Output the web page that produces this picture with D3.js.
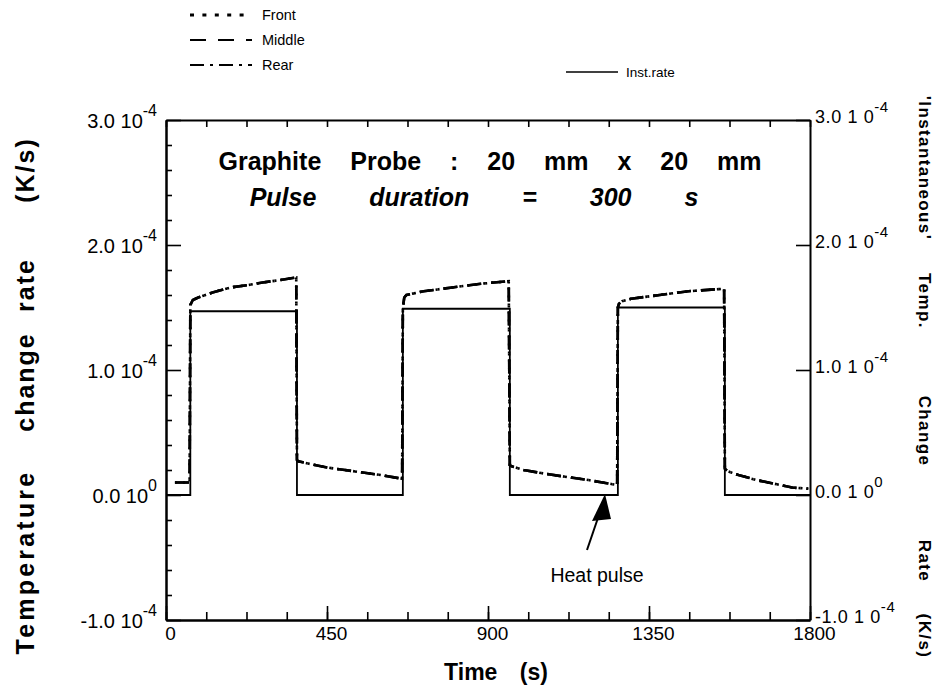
<!DOCTYPE html>
<html>
<head>
<meta charset="utf-8">
<style>
  body { margin: 0; background: #fff; }
  text { font-family: "Liberation Sans", Arial, sans-serif; fill: #000; }
</style>
</head>
<body>
<svg width="945" height="692"></svg>
<script src="https://cdn.jsdelivr.net/npm/d3@7/dist/d3.min.js"></script>
<script>
// time axis (s)
const xTicks = [0, 450, 900, 1350, 1800];
const xMinorTicks = [0, 112.5, 225, 337.5, 450, 562.5, 675, 787.5, 900, 1012.5, 1125, 1237.5, 1350, 1462.5, 1575, 1687.5, 1800];
// rate axis (K/s)
const yTicks = [-1e-4, 0, 1e-4, 2e-4, 3e-4];
const yTickMant = ["-1.0", "0.0", "1.0", "2.0", "3.0"];
const yTickExp = ["-4", "0", "-4", "-4", "-4"];
const yMinorTicks = [-0.8e-4, -0.6e-4, -0.4e-4, -0.2e-4, 0.2e-4, 0.4e-4, 0.6e-4, 0.8e-4,
  1.2e-4, 1.4e-4, 1.6e-4, 1.8e-4, 2.2e-4, 2.4e-4, 2.6e-4, 2.8e-4];

// 'instantaneous' rate (square pulses), units 1e-4 K/s
const instTime = [0, 68, 68, 366, 366, 662, 662, 961, 961, 1263, 1263, 1562, 1562, 1800];
const instRate = [0, 0, 1.47, 1.47, 0, 0, 1.49, 1.49, 0, 0, 1.50, 1.50, 0, 0];

// probe thermocouples, units 1e-4 K/s
const probeTime = [25, 66, 68, 75, 90, 130, 180, 230, 270, 320, 364, 366,
  370, 400, 450, 500, 550, 600, 660, 662, 666, 672, 720, 800, 880, 958, 961,
  966, 1000, 1060, 1130, 1180, 1220, 1261, 1263, 1266, 1275, 1300, 1380, 1460, 1560, 1562,
  1570, 1600, 1650, 1700, 1750, 1795];
const frontRate = [0.10, 0.10, 1.52, 1.56, 1.58, 1.62, 1.66, 1.68, 1.70, 1.72, 1.74, 0.28,
  0.27, 0.25, 0.22, 0.20, 0.18, 0.16, 0.13, 1.50, 1.58, 1.60, 1.63, 1.66, 1.69, 1.71, 0.24,
  0.23, 0.20, 0.17, 0.14, 0.12, 0.10, 0.08, 1.50, 1.53, 1.55, 1.57, 1.60, 1.63, 1.65, 0.21,
  0.19, 0.16, 0.12, 0.09, 0.06, 0.05];
const middleRate = frontRate.slice();
const rearRate = frontRate.slice();

const svg = d3.select("svg");
const x = d3.scaleLinear().domain([0, 1800]).range([166, 810]);
const y = d3.scaleLinear().domain([-1e-4, 3e-4]).range([620, 120]);

// axes
function styleAxis(g) {
  g.selectAll("path").attr("stroke", "#000").attr("stroke-width", 2);
  g.selectAll("line").attr("stroke", "#000").attr("stroke-width", 1.6);
}
svg.append("g").attr("transform", `translate(${x(0)},0)`)
  .call(d3.axisLeft(y).tickValues(yMinorTicks).tickSize(-6).tickSizeOuter(0).tickFormat("")).call(styleAxis);
svg.append("g").attr("transform", `translate(${x(0)},0)`)
  .call(d3.axisLeft(y).tickValues(yTicks).tickSize(-15).tickSizeOuter(0).tickFormat("")).call(styleAxis);
svg.append("g").attr("transform", `translate(${x(1800)},0)`)
  .call(d3.axisRight(y).tickValues(yTicks).tickSize(-14).tickSizeOuter(0).tickFormat("")).call(styleAxis);
svg.append("g").attr("transform", `translate(0,${y(3e-4)})`)
  .call(d3.axisTop(x).tickValues(xMinorTicks).tickSize(-7).tickSizeOuter(0).tickFormat("")).call(styleAxis);
svg.append("g").attr("transform", `translate(0,${y(-1e-4)})`)
  .call(d3.axisBottom(x).tickValues(xMinorTicks).tickSize(-8).tickSizeOuter(0).tickFormat("")).call(styleAxis);
const xAxis = svg.append("g").attr("transform", `translate(0,${y(-1e-4)})`)
  .call(d3.axisBottom(x).tickValues(xTicks).tickSize(-14).tickSizeOuter(0).tickPadding(7).tickFormat(d3.format("d")))
  .call(styleAxis);
xAxis.selectAll("text").attr("font-size", 19).attr("dx", 4)
  .attr("font-family", "Liberation Sans Narrow, Liberation Sans, Arial, sans-serif");

// y tick labels with exponents
yTicks.forEach((v, i) => {
  const t = svg.append("text").attr("x", 157).attr("y", y(v) + 8)
    .attr("text-anchor", "end").attr("font-size", 20);
  t.append("tspan").text(yTickMant[i] + " 10");
  t.append("tspan").attr("dy", -12).attr("font-size", 16).text(yTickExp[i]);
  const r = svg.append("text").attr("x", x(1800) + 5).attr("y", y(v) + 3)
    .attr("font-size", 18).attr("letter-spacing", 0.6);
  r.append("tspan").text(yTickMant[i] + " 1 0");
  r.append("tspan").attr("dy", -11).attr("font-size", 15).text(yTickExp[i]);
});

// series
const line = d3.line().x(d => x(d[0])).y(d => y(d[1] * 1e-4));
svg.append("path").datum(d3.zip(instTime, instRate)).attr("d", line)
  .attr("fill", "none").attr("stroke", "#000").attr("stroke-width", 1.8);
const probes = [
  { name: "Front", vals: frontRate, dash: "2,6" },
  { name: "Middle", vals: middleRate, dash: "14,10" },
  { name: "Rear", vals: rearRate, dash: "14,4,2,4" }
];
probes.forEach(p => {
  svg.append("path").datum(d3.zip(probeTime, p.vals)).attr("d", line)
    .attr("fill", "none").attr("stroke", "#000").attr("stroke-width", 2.6)
    .attr("stroke-dasharray", p.dash);
});

// legend
const legY = [15, 40, 65];
const legDash = ["4,8.4", "16,12", "14,6,3,6"];
const legWidth = [3, 2, 2];
probes.forEach((p, i) => {
  svg.append("line").attr("x1", 190).attr("x2", 252).attr("y1", legY[i]).attr("y2", legY[i])
    .attr("stroke", "#000").attr("stroke-width", legWidth[i]).attr("stroke-dasharray", legDash[i]);
  svg.append("text").attr("x", 262).attr("y", legY[i] + 5).attr("font-size", 14.5).text(p.name);
});
svg.append("line").attr("x1", 566).attr("x2", 618).attr("y1", 72).attr("y2", 72)
  .attr("stroke", "#000").attr("stroke-width", 1.5);
svg.append("text").attr("x", 626).attr("y", 77).attr("font-size", 13.5).text("Inst.rate");

// titles
svg.append("text").attr("x", 490).attr("y", 170).attr("text-anchor", "middle")
  .attr("font-size", 25).attr("font-weight", "bold").attr("word-spacing", 22)
  .text("Graphite Probe : 20 mm x 20 mm");
svg.append("text").attr("x", 474).attr("y", 206).attr("text-anchor", "middle")
  .attr("font-size", 25).attr("font-weight", "bold").attr("font-style", "italic").attr("word-spacing", 46)
  .text("Pulse duration = 300 s");

// axis titles, one word at a time (wide gaps in the original)
const leftWords = ["Temperature", "change", "rate", "(K/s)"];
const leftCentres = [562, 382, 285, 170];
leftWords.forEach((w, i) => {
  svg.append("text").attr("transform", `translate(34,${leftCentres[i]}) rotate(-90)`)
    .attr("text-anchor", "middle").attr("font-size", 25).attr("font-weight", "bold")
    .attr("letter-spacing", i === 0 ? 3.2 : 2).text(w);
});
const rightWords = ["'Instantaneous'", "Temp.", "Change", "Rate", "(K/s)"];
const rightCentres = [168, 301, 431, 561, 636];
rightWords.forEach((w, i) => {
  svg.append("text").attr("transform", `translate(919,${rightCentres[i]}) rotate(90)`)
    .attr("text-anchor", "middle").attr("font-size", 17).attr("font-weight", "bold")
    .attr("letter-spacing", 1.4).text(w);
});
svg.append("text").attr("x", 496).attr("y", 680).attr("text-anchor", "middle")
  .attr("font-size", 23).attr("font-weight", "bold").attr("word-spacing", 16)
  .text("Time (s)");

// heat pulse annotation
svg.append("line").attr("x1", 587).attr("y1", 550).attr("x2", 600).attr("y2", 512)
  .attr("stroke", "#000").attr("stroke-width", 2);
svg.append("path").attr("d", "M605,494 L592,521 L611,519 Z").attr("fill", "#000");
svg.append("text").attr("x", 597).attr("y", 582).attr("text-anchor", "middle")
  .attr("font-size", 19.5).text("Heat pulse");
</script>
</body>
</html>
